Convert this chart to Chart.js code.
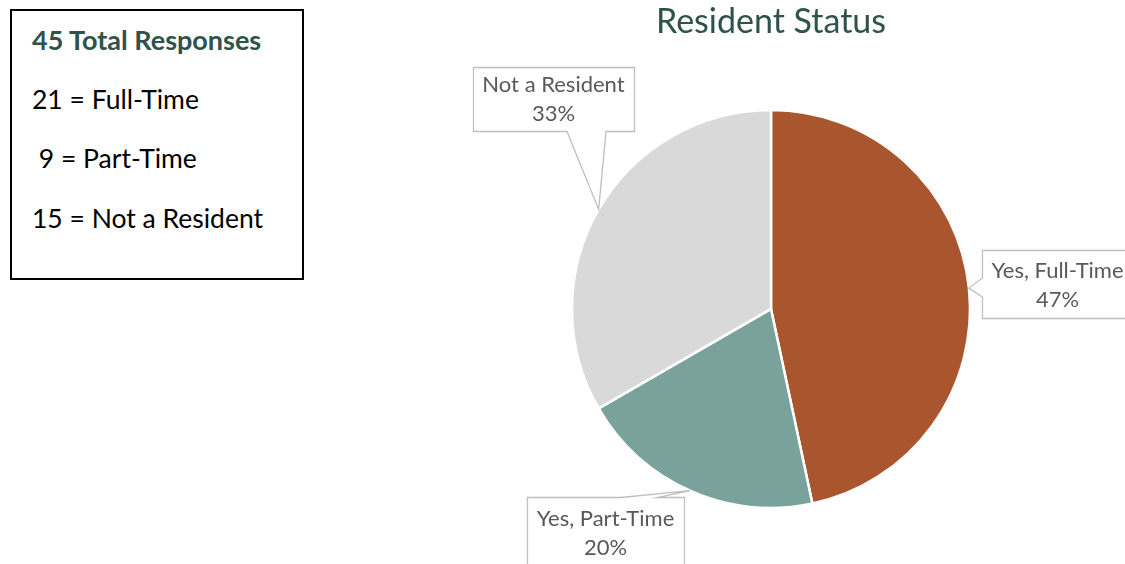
<!DOCTYPE html>
<html>
<head>
<meta charset="utf-8">
<script src="https://cdn.jsdelivr.net/npm/chart.js@4/dist/chart.umd.min.js"></script>
<style>
  html, body { margin: 0; padding: 0; background: #fff; }
  body { width: 1125px; height: 564px; position: relative; overflow: hidden; font-family: Lato, "Open Sans", sans-serif; }
  #summary { position: absolute; left: 10px; top: 9px; width: 290px; height: 267px; border: 2px solid #000; }
  #summary div { position: absolute; left: 20px; height: 32px; line-height: 32px; font-size: 26.5px; color: #000; white-space: pre; }
  #summary .head { font-weight: bold; font-size: 27px; color: #2f5249; }
  #chart-resident { position: absolute; left: 0; top: 0; }
</style>
</head>
<body>
<div id="summary"></div>
<canvas id="chart-resident" width="1125" height="564"></canvas>
<script>
const categories = ['Yes, Full-Time', 'Yes, Part-Time', 'Not a Resident'];
const shortNames = ['Full-Time', 'Part-Time', 'Not a Resident'];
const responses = [21, 9, 15];
const sliceColors = ['#a9552e', '#79a29d', '#d9d9d9'];

const total = responses.reduce((a, b) => a + b, 0);

// summary box on the left
function buildSummary() {
    const box = document.getElementById('summary');
    const lines = [{ text: `${total} Total Responses`, cls: 'head', top: 13 }];
    const tops = [72, 131, 191];
    responses.forEach((n, i) => {
        const pad = n < 10 ? ' ' : '';
        lines.push({ text: `${pad}${n} = ${shortNames[i]}`, cls: '', top: tops[i] });
    });
    lines.forEach((l) => {
        const div = document.createElement('div');
        if (l.cls) div.className = l.cls;
        div.style.top = l.top + 'px';
        div.textContent = l.text;
        box.appendChild(div);
    });
}
buildSummary();

// callout boxes with a pointer to the middle of each slice
const calloutPlugin = {
    id: 'callouts',
    afterDatasetsDraw(chart, args, opts) {
        const ctx = chart.ctx;
        const meta = chart.getDatasetMeta(0);
        meta.data.forEach((arc, i) => {
            const b = opts.boxes[i];
            const p = arc.getProps(['x', 'y', 'startAngle', 'endAngle', 'outerRadius'], true);
            const mid = (p.startAngle + p.endAngle) / 2;
            const tx = p.x + Math.cos(mid) * p.outerRadius;
            const ty = p.y + Math.sin(mid) * p.outerRadius;
            const L = b.left + 0.5, T = b.top + 0.5, R = b.right + 0.5, B = b.bottom + 0.5;
            const [a0, a1] = b.base;

            ctx.save();
            ctx.beginPath();
            ctx.moveTo(L, T);
            if (b.side === 'top') { ctx.lineTo(a0, T); ctx.lineTo(tx, ty); ctx.lineTo(a1, T); }
            ctx.lineTo(R, T);
            ctx.lineTo(R, B);
            if (b.side === 'bottom') { ctx.lineTo(a1, B); ctx.lineTo(tx, ty); ctx.lineTo(a0, B); }
            ctx.lineTo(L, B);
            if (b.side === 'left') { ctx.lineTo(L, a1); ctx.lineTo(tx, ty); ctx.lineTo(L, a0); }
            ctx.closePath();
            ctx.fillStyle = '#ffffff';
            ctx.fill();
            ctx.lineWidth = 1.3;
            ctx.strokeStyle = '#bfbfbf';
            ctx.stroke();

            const pct = Math.round(responses[i] / total * 100) + '%';
            ctx.fillStyle = '#595959';
            ctx.font = opts.font;
            ctx.textAlign = 'center';
            ctx.textBaseline = 'middle';
            const cx = (b.left + b.right) / 2;
            ctx.fillText(chart.data.labels[i], cx, b.line1);
            ctx.fillText(pct, cx, b.line1 + 29);
            ctx.restore();
        });
    }
};

new Chart(document.getElementById('chart-resident'), {
    type: 'pie',
    data: {
        labels: categories,
        datasets: [{
            data: responses,
            backgroundColor: sliceColors,
            borderColor: '#ffffff',
            borderWidth: 2.5
        }]
    },
    plugins: [calloutPlugin],
    options: {
        responsive: false,
        animation: false,
        radius: 199,
        layout: { padding: { left: 572, right: 155, top: 0, bottom: 56 } },
        plugins: {
            legend: { display: false },
            tooltip: { enabled: false },
            title: {
                display: true,
                text: 'Resident Status',
                color: '#2f5249',
                font: { family: 'Lato, "Open Sans", sans-serif', size: 34, weight: 'normal', lineHeight: 1.2 },
                padding: { top: 2, bottom: 67 }
            },
            callouts: {
                font: '22px Lato, "Open Sans", sans-serif',
                boxes: [
                    { left: 982, top: 250, right: 1133, bottom: 318, side: 'left', base: [278, 297], line1: 271 },
                    { left: 527, top: 497, right: 684, bottom: 570, side: 'top', base: [621, 657], line1: 519 },
                    { left: 473, top: 67, right: 634, bottom: 131, side: 'bottom', base: [567, 606], line1: 85 }
                ]
            }
        }
    }
});
</script>
</body>
</html>
